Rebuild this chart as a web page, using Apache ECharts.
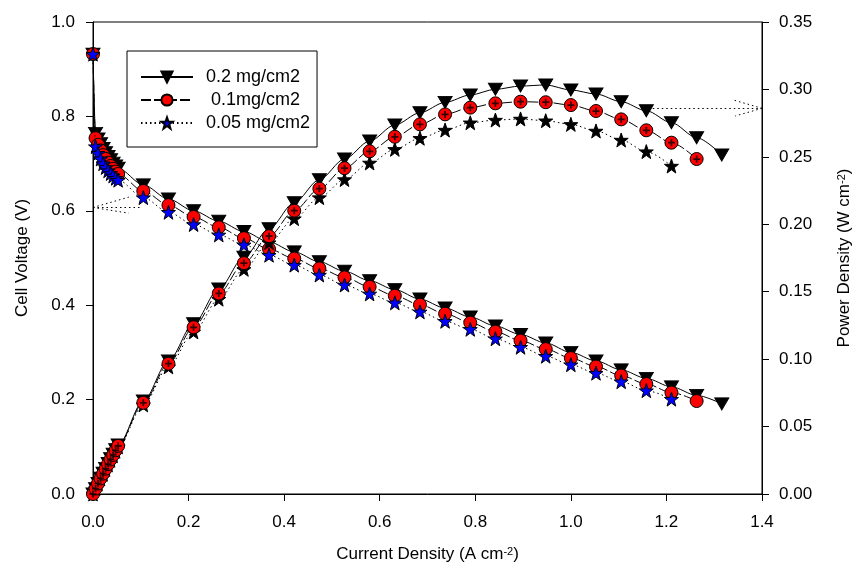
<!DOCTYPE html>
<html><head><meta charset="utf-8">
<script src="https://cdn.jsdelivr.net/npm/echarts@6/dist/echarts.min.js"></script>
<style>html,body{margin:0;padding:0;background:#fff}#c{width:861px;height:577px}</style>
</head><body><div id="c"></div>
<script>
const seriesNames = ['0.2 mg/cm2', ' 0.1mg/cm2', '0.05 mg/cm2'];
const currentDensity = [0, 0.0053, 0.0105, 0.0158, 0.0211, 0.0263, 0.0316, 0.0368, 0.0421, 0.0474, 0.0526,
  0.1053, 0.1579, 0.2105, 0.2632, 0.3158, 0.3684, 0.4211, 0.4737, 0.5263, 0.5789, 0.6316, 0.6842,
  0.7368, 0.7895, 0.8421, 0.8947, 0.9474, 1.0, 1.0526, 1.1053, 1.1579, 1.2105, 1.2632, 1.3158];
const voltage02 = [0.932, 0.764, 0.752, 0.742, 0.732, 0.723, 0.715, 0.708, 0.701, 0.695, 0.690,
  0.655, 0.625, 0.600, 0.578, 0.556, 0.534, 0.513, 0.492, 0.472, 0.452, 0.433, 0.413, 0.394, 0.375,
  0.356, 0.338, 0.320, 0.300, 0.282, 0.263, 0.245, 0.227, 0.209, 0.191];
const voltage01 = [0.932, 0.754, 0.740, 0.728, 0.718, 0.710, 0.702, 0.695, 0.689, 0.683, 0.678,
  0.642, 0.612, 0.587, 0.565, 0.542, 0.519, 0.499, 0.478, 0.459, 0.439, 0.420, 0.401, 0.382, 0.363,
  0.344, 0.325, 0.307, 0.288, 0.270, 0.251, 0.233, 0.215, 0.197];
const voltage005 = [0.932, 0.736, 0.722, 0.710, 0.700, 0.692, 0.685, 0.679, 0.674, 0.669, 0.665,
  0.628, 0.597, 0.571, 0.549, 0.528, 0.506, 0.485, 0.464, 0.443, 0.424, 0.405, 0.386, 0.366, 0.349,
  0.329, 0.311, 0.292, 0.274, 0.256, 0.238, 0.219, 0.201];
const power02 = [0, 0.0040, 0.0079, 0.0117, 0.0154, 0.0190, 0.0226, 0.0261, 0.0295, 0.0329, 0.0363,
  0.0690, 0.0987, 0.1263, 0.1521, 0.1756, 0.1967, 0.2160, 0.2331, 0.2484, 0.2617, 0.2736, 0.2827,
  0.2904, 0.2959, 0.3001, 0.3025, 0.3033, 0.2996, 0.2966, 0.2909, 0.2842, 0.2753, 0.2642, 0.2514];
const power01 = [0, 0.0040, 0.0078, 0.0115, 0.0151, 0.0187, 0.0222, 0.0256, 0.0290, 0.0324, 0.0357,
  0.0676, 0.0966, 0.1236, 0.1487, 0.1712, 0.1912, 0.2101, 0.2264, 0.2416, 0.2541, 0.2649, 0.2741,
  0.2815, 0.2865, 0.2897, 0.2909, 0.2905, 0.2884, 0.2840, 0.2778, 0.2697, 0.2605, 0.2484];
const power005 = [0, 0.0039, 0.0076, 0.0112, 0.0147, 0.0182, 0.0216, 0.0250, 0.0284, 0.0317, 0.0350,
  0.0661, 0.0943, 0.1202, 0.1445, 0.1666, 0.1864, 0.2042, 0.2198, 0.2332, 0.2455, 0.2556, 0.2638,
  0.2699, 0.2753, 0.2773, 0.2781, 0.2768, 0.2741, 0.2692, 0.2625, 0.2539, 0.2432];
const xTicks = [0, 0.2, 0.4, 0.6, 0.8, 1.0, 1.2, 1.4];
const yLeftTicks = [0, 0.2, 0.4, 0.6, 0.8, 1.0];
const yRightTicks = [0, 0.05, 0.10, 0.15, 0.20, 0.25, 0.30, 0.35];
// dotted arrow annotations (data space)
const leftArrow = [[[0, 0.607], [0.10, 0.607]], [[0, 0.607], [0.075, 0.629]], [[0, 0.607], [0.075, 0.595]]];
const rightArrow = [[[1.162, 0.286], [1.4, 0.286]], [[1.4, 0.286], [1.337, 0.2925]], [[1.4, 0.286], [1.344, 0.2803]]];

const FONT = 'Liberation Sans, Arial, sans-serif';
const STAR = 'path://M12,0 L14.9,8.3 L23.4,8.4 L16.6,13.6 L19.1,22 L12,17 L4.9,22 L7.4,13.6 L0.6,8.4 L9.1,8.3 Z';
const PLUS = 'path://M3,0 H5 V3 H8 V5 H5 V8 H3 V5 H0 V3 H3 Z';
const pairs = ys => ys.map((y, i) => [currentDensity[i], y]);
const segs = a => a.map(s => [{coord: s[0]}, {coord: s[1]}]);
const dot = [1.5, 3];
const dash = [10, 3];

function mk(name, yIdx, ys, sym, size, rot, fill, ltype, z, extra) {
  return Object.assign({
    name, type: 'line', yAxisIndex: yIdx, data: pairs(ys), symbol: sym, symbolSize: size,
    symbolRotate: rot, showAllSymbol: true, smooth: 0.3, smoothMonotone: 'x', z,
    itemStyle: {color: fill, borderColor: '#000', borderWidth: 1},
    lineStyle: {color: '#000', width: 1, type: ltype},
    emphasis: {disabled: true}
  }, extra || {});
}
function arrowML(a) {
  return {markLine: {silent: true, symbol: ['none', 'none'], label: {show: false},
    lineStyle: {color: '#000', width: 1, type: dot}, emphasis: {disabled: true}, data: segs(a)}};
}

const chart = echarts.init(document.getElementById('c'));
const axisCommon = {
  axisLine: {show: true, lineStyle: {color: '#000', width: 1}},
  axisTick: {show: true, inside: false, length: 7, lineStyle: {color: '#000'}},
  splitLine: {show: false},
  nameLocation: 'middle',
  nameTextStyle: {fontSize: 17, color: '#000', fontFamily: FONT,
    rich: {sup: {fontSize: 11, fontFamily: FONT, color: '#000', verticalAlign: 'top', lineHeight: 11}}}
};
const labelStyle = {fontSize: 17, color: '#000', fontFamily: FONT};
chart.setOption({
  animation: false,
  backgroundColor: '#fff',
  grid: {left: 93, right: 99, top: 22, bottom: 83, show: true, borderColor: '#000', borderWidth: 1},
  legend: {
    data: seriesNames, orient: 'vertical', left: 127, top: 51, padding: [17, 7, 15, 13], itemGap: 5,
    itemWidth: 52, itemHeight: 14, borderColor: '#000', borderWidth: 1, selectedMode: false,
    textStyle: {fontSize: 18, color: '#000', fontFamily: FONT, padding: [0, 0, 0, 8]}
  },
  xAxis: Object.assign({}, axisCommon, {
    type: 'value', min: xTicks[0], max: xTicks[xTicks.length - 1], interval: xTicks[1] - xTicks[0],
    name: 'Current Density (A cm{sup|-2})', nameGap: 52,
    axisLabel: Object.assign({margin: 20, formatter: v => v.toFixed(1)}, labelStyle)
  }),
  yAxis: [
    Object.assign({}, axisCommon, {
      type: 'value', min: yLeftTicks[0], max: yLeftTicks[yLeftTicks.length - 1], interval: yLeftTicks[1] - yLeftTicks[0],
      name: 'Cell Voltage (V)', nameGap: 62, nameRotate: 90,
      axisLabel: Object.assign({margin: 18, formatter: v => v.toFixed(1)}, labelStyle)
    }),
    Object.assign({}, axisCommon, {
      type: 'value', position: 'right', min: yRightTicks[0], max: yRightTicks[yRightTicks.length - 1],
      interval: yRightTicks[1] - yRightTicks[0],
      name: 'Power Density (W cm{sup|-2})', nameGap: 74, nameRotate: 90,
      axisLabel: Object.assign({margin: 17, formatter: v => v.toFixed(2)}, labelStyle)
    })
  ],
  series: [
    mk(seriesNames[0], 0, voltage02, 'triangle', [14, 12], 180, '#000', 'solid', 2),
    mk(seriesNames[1], 0, voltage01, 'circle', 13, 0, '#ff0000', dash, 3),
    mk(seriesNames[2], 0, voltage005, STAR, 14, 0, '#0000ff', dot, 4, arrowML(leftArrow)),
    mk(seriesNames[0], 1, power02, 'triangle', [14, 12], 180, '#000', 'solid', 2),
    mk(seriesNames[2], 1, power005, STAR, 14, 0, '#000', dot, 3, arrowML(rightArrow)),
    mk(seriesNames[1], 1, power01, 'circle', 13, 0, '#ff0000', dash, 4),
    {type: 'scatter', name: 'cross', yAxisIndex: 1, data: pairs(power01), symbol: PLUS, symbolSize: 7,
      itemStyle: {color: '#000'}, z: 5, silent: true, emphasis: {disabled: true}}
  ]
});
</script></body></html>
